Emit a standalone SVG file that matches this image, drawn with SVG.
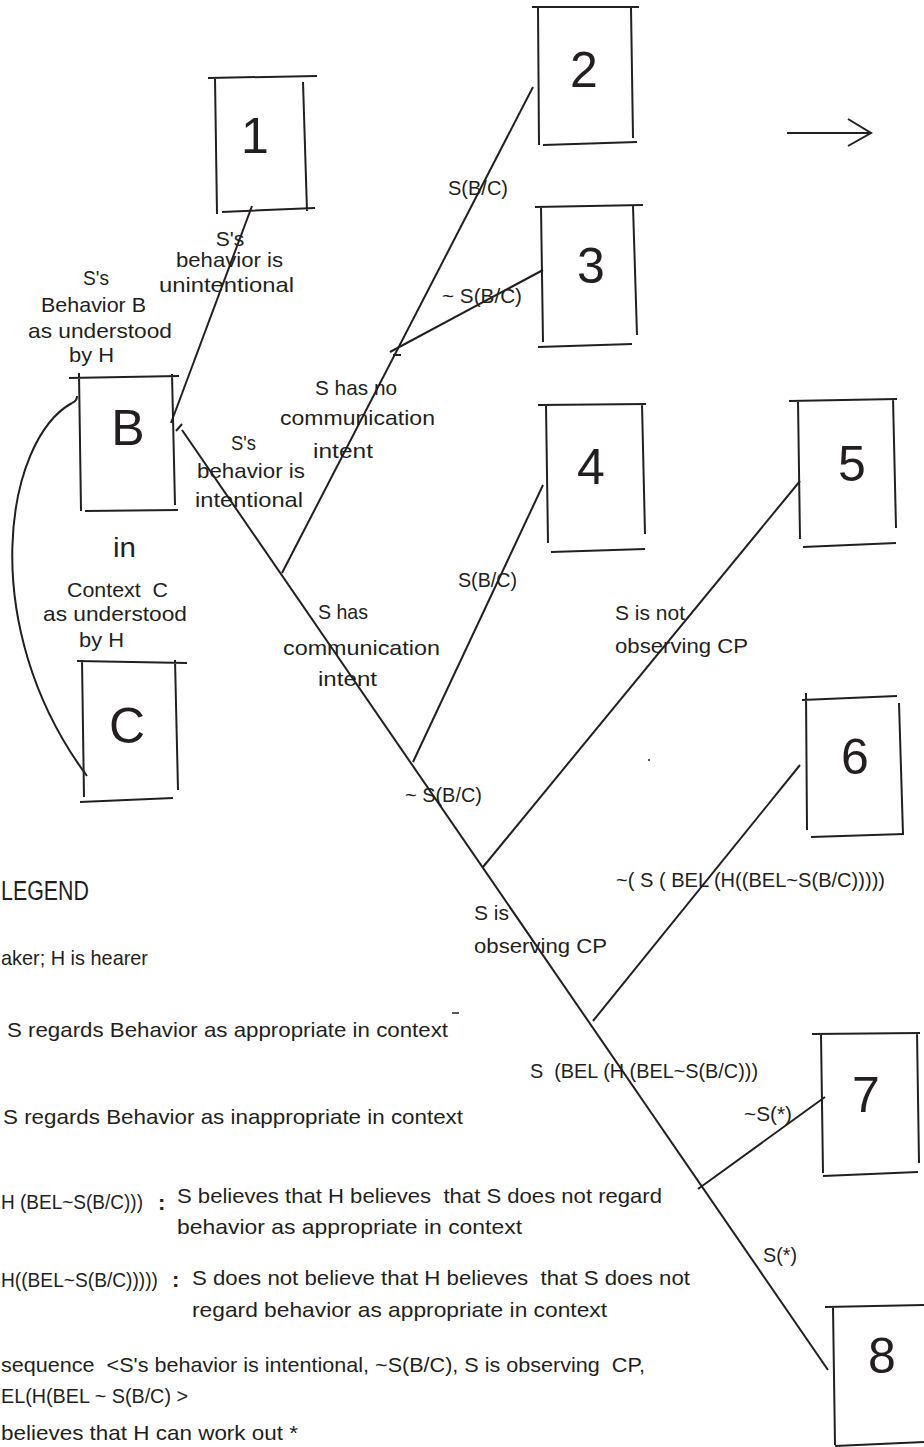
<svg xmlns="http://www.w3.org/2000/svg" width="924" height="1447" viewBox="0 0 924 1447">
<style>
.ln{stroke:#231f20;stroke-width:2;fill:none;stroke-linecap:butt}
.thin{stroke:#231f20;stroke-width:1.5;fill:none}
text{font-family:"Liberation Sans",Arial,sans-serif;fill:#231f20}
.l{font-size:21px}
.d{font-size:50px;text-anchor:middle}
.m{text-anchor:middle}
</style>
<rect width="924" height="1447" fill="#ffffff"/>

<g id="node-1">
<path class="ln" d="M208 78 L317 76 M215 78 L217 214 M303 82 L307 211 M222 212 L315 208"/>
<text class="d" x="255" y="153">1</text>
</g>
<g id="node-2">
<path class="ln" d="M532 7 L639 7 M538 8 L539 145 M631 8 L633 138 M543 145 L637 142"/>
<text class="d" x="584" y="87">2</text>
</g>
<g id="node-3">
<path class="ln" d="M535 207 L643 205 M541 207 L543 342 M633 206 L637 335 M538 347 L632 344"/>
<text class="d" x="591" y="283">3</text>
</g>
<g id="node-4">
<path class="ln" d="M538 405 L646 404 M546 405 L548 543 M642 404 L645 534 M551 552 L645 549"/>
<text class="d" x="591" y="484">4</text>
</g>
<g id="node-5">
<path class="ln" d="M789 401 L897 399 M798 401 L800 539 M893 398 L896 528 M803 547 L896 543"/>
<text class="d" x="852" y="481">5</text>
</g>
<g id="node-6">
<path class="ln" d="M802 700 L897 696 M806 693 L807 830 M899 703 L903 834 M811 837 L904 834"/>
<text class="d" x="855" y="774">6</text>
</g>
<g id="node-7">
<path class="ln" d="M812 1034 L920 1033 M821 1034 L823 1173 M917 1032 L919 1163 M823 1176 L918 1172"/>
<text class="d" x="866" y="1112">7</text>
</g>
<g id="node-8">
<path class="ln" d="M825 1307 L924 1305 M833 1307 L835 1445 M835 1446 L924 1442"/>
<text class="d" x="882" y="1373">8</text>
</g>
<g id="node-B">
<path class="ln" d="M69 378 L179 376 M79 373 L81 511 M172 374 L175 505 M85 511 L178 510"/>
<text class="d" x="128" y="445">B</text>
</g>
<g id="node-C">
<path class="ln" d="M77 661 L187 663 M82 660 L84 797 M175 660 L178 790 M80 802 L173 798"/>
<text class="d" x="127" y="743">C</text>
</g>

<g id="connectors">
<path class="ln" d="M252 206 L171 423"/>
<path class="ln" d="M176 431 L182 424"/>
<path class="ln" d="M182 430 L828 1370"/>
<path class="ln" d="M282 573 L533 87"/>
<path class="ln" d="M390 352 L543 270"/>
<path class="ln" d="M393 355 L401 355"/>
<path class="ln" d="M543 485 L413 762"/>
<path class="ln" d="M800 481 L483 867"/>
<path class="ln" d="M800 765 L593 1021"/>
<path class="ln" d="M825 1097 L698 1189"/>
<path class="ln" d="M72 403 C5 440 -25 625 87 776"/>
<path class="ln" d="M72 403 Q77 401 77 396"/>
<path class="ln" d="M787 133 L871 133 M848 119 L871 133 L848 146"/>
<circle cx="649" cy="760" r="1" fill="#231f20"/>
</g>

<g id="labels">
<text class="l m" x="230" y="246">S's</text>
<text class="l" x="176" y="267" textLength="107" lengthAdjust="spacingAndGlyphs">behavior is</text>
<text class="l" x="159" y="292" textLength="135" lengthAdjust="spacingAndGlyphs">unintentional</text>

<text class="l" x="83" y="285" textLength="26" lengthAdjust="spacingAndGlyphs">S's</text>
<text class="l" x="41" y="312" textLength="105" lengthAdjust="spacingAndGlyphs">Behavior B</text>
<text class="l" x="28" y="338" textLength="144" lengthAdjust="spacingAndGlyphs">as understood</text>
<text class="l" x="69" y="362" textLength="45" lengthAdjust="spacingAndGlyphs">by H</text>

<text x="113" y="557" font-size="27" textLength="23" lengthAdjust="spacingAndGlyphs">in</text>
<text class="l" x="67" y="597" textLength="101" lengthAdjust="spacingAndGlyphs" xml:space="preserve">Context  C</text>
<text class="l" x="43" y="621" textLength="144" lengthAdjust="spacingAndGlyphs">as understood</text>
<text class="l" x="79" y="647" textLength="45" lengthAdjust="spacingAndGlyphs">by H</text>

<text class="l" x="448" y="195" textLength="60" lengthAdjust="spacingAndGlyphs">S(B/C)</text>
<text class="l" x="442" y="303" textLength="80" lengthAdjust="spacingAndGlyphs">~ S(B/C)</text>

<text class="l" x="315" y="395" textLength="82" lengthAdjust="spacingAndGlyphs">S has no</text>
<text class="l" x="280" y="425" textLength="155" lengthAdjust="spacingAndGlyphs">communication</text>
<text class="l" x="313" y="458" textLength="60" lengthAdjust="spacingAndGlyphs">intent</text>

<text class="l" x="231" y="450" textLength="25" lengthAdjust="spacingAndGlyphs">S's</text>
<text class="l" x="197" y="478" textLength="108" lengthAdjust="spacingAndGlyphs">behavior is</text>
<text class="l" x="195" y="507" textLength="108" lengthAdjust="spacingAndGlyphs">intentional</text>

<text class="l" x="458" y="587" textLength="59" lengthAdjust="spacingAndGlyphs">S(B/C)</text>
<text class="l" x="318" y="619" textLength="50" lengthAdjust="spacingAndGlyphs">S has</text>
<text class="l" x="283" y="655" textLength="157" lengthAdjust="spacingAndGlyphs">communication</text>
<text class="l" x="318" y="686" textLength="59" lengthAdjust="spacingAndGlyphs">intent</text>

<text class="l" x="405" y="802" textLength="77" lengthAdjust="spacingAndGlyphs">~ S(B/C)</text>

<text class="l" x="615" y="620" textLength="70" lengthAdjust="spacingAndGlyphs">S is not</text>
<text class="l" x="615" y="653" textLength="133" lengthAdjust="spacingAndGlyphs">observing CP</text>

<text class="l" x="616" y="887" textLength="269" lengthAdjust="spacingAndGlyphs">~( S ( BEL (H((BEL~S(B/C)))))</text>
<text class="l" x="474" y="920">S is</text>
<text class="l" x="474" y="953" textLength="133" lengthAdjust="spacingAndGlyphs">observing CP</text>

<text class="l" x="530" y="1078" textLength="228" lengthAdjust="spacingAndGlyphs" xml:space="preserve">S  (BEL (H (BEL~S(B/C)))</text>
<text class="l" x="744" y="1121" textLength="48" lengthAdjust="spacingAndGlyphs">~S(*)</text>
<text class="l" x="763" y="1262" textLength="34" lengthAdjust="spacingAndGlyphs">S(*)</text>
</g>

<g id="legend">
<text x="1" y="900" font-size="27" textLength="88" lengthAdjust="spacingAndGlyphs">LEGEND</text>
<text class="l" x="1" y="965" textLength="147" lengthAdjust="spacingAndGlyphs">aker; H is hearer</text>
<text class="l" x="7" y="1037" textLength="441" lengthAdjust="spacingAndGlyphs">S regards Behavior as appropriate in context</text>
<path class="thin" d="M452 1013 L459 1013"/>
<text class="l" x="3" y="1124" textLength="460" lengthAdjust="spacingAndGlyphs">S regards Behavior as inappropriate in context</text>

<text class="l" x="1" y="1209" textLength="142" lengthAdjust="spacingAndGlyphs">H (BEL~S(B/C)))</text>
<text x="158" y="1210" font-size="22" font-weight="bold">:</text>
<text class="l" x="177" y="1203" textLength="485" lengthAdjust="spacingAndGlyphs" xml:space="preserve">S believes that H believes  that S does not regard</text>
<text class="l" x="177" y="1234" textLength="345" lengthAdjust="spacingAndGlyphs">behavior as appropriate in context</text>

<text class="l" x="1" y="1287" textLength="157" lengthAdjust="spacingAndGlyphs">H((BEL~S(B/C)))))</text>
<text x="172" y="1287" font-size="22" font-weight="bold">:</text>
<text class="l" x="192" y="1285" textLength="498" lengthAdjust="spacingAndGlyphs" xml:space="preserve">S does not believe that H believes  that S does not</text>
<text class="l" x="192" y="1317" textLength="415" lengthAdjust="spacingAndGlyphs">regard behavior as appropriate in context</text>

<text class="l" x="1" y="1372" textLength="644" lengthAdjust="spacingAndGlyphs" xml:space="preserve">sequence  &lt;S's behavior is intentional, ~S(B/C), S is observing  CP,</text>
<text class="l" x="1" y="1403" textLength="187" lengthAdjust="spacingAndGlyphs">EL(H(BEL ~ S(B/C) &gt;</text>
<text class="l" x="1" y="1440" textLength="297" lengthAdjust="spacingAndGlyphs">believes that H can work out *</text>
</g>
</svg>
